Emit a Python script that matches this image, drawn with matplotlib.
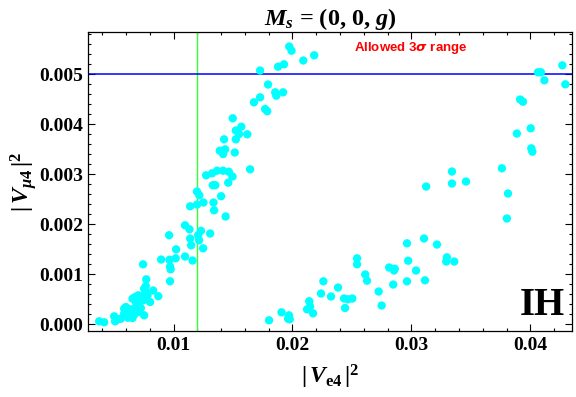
import numpy as np
import matplotlib
matplotlib.use('Agg')
import matplotlib.pyplot as plt
from matplotlib.ticker import MultipleLocator, FormatStrFormatter

# Fonts: bold serif, like the Mathematica export
plt.rcParams['font.family'] = ['Liberation Serif', 'DejaVu Serif']
plt.rcParams['font.weight'] = 'bold'
plt.rcParams['mathtext.fontset'] = 'custom'
plt.rcParams['mathtext.rm'] = 'Liberation Serif:bold'
plt.rcParams['mathtext.it'] = 'Liberation Serif:italic:bold'
plt.rcParams['mathtext.bf'] = 'Liberation Serif:bold'

# Steep branch (|Ve4|^2, |Vmu4|^2)
x_steep = [0.01973, 0.01992, 0.02091, 0.02183, 0.01879, 0.01929, 0.01728, 0.01795,
           0.01855, 0.01864, 0.01921, 0.01728, 0.01676, 0.01770, 0.01788, 0.01498,
           0.01570, 0.01524, 0.01551, 0.01620, 0.01524, 0.01425, 0.01434, 0.01389,
           0.01417, 0.01515, 0.01644, 0.01274, 0.01324, 0.01366, 0.01417, 0.01465,
           0.01496, 0.01460, 0.01330, 0.01351, 0.01400, 0.01197, 0.01217, 0.01140,
           0.01198, 0.01252, 0.01336, 0.01341, 0.01438, 0.01097, 0.01134, 0.01231,
           0.01207, 0.01308, 0.00963, 0.01140, 0.01148, 0.01215, 0.01249, 0.01022,
           0.00896, 0.00967, 0.01018, 0.01097, 0.01160, 0.00971, 0.00976, 0.00744,
           0.00971, 0.00771, 0.00767, 0.00829, 0.00872, 0.00803, 0.00753,
           0.00375, 0.00417, 0.00501, 0.00509, 0.00557, 0.00585, 0.00599, 0.00618,
           0.00655, 0.00669, 0.00655, 0.00677, 0.00703, 0.00725, 0.00745, 0.00683,
           0.00697, 0.00719, 0.00753, 0.00767, 0.00641, 0.00635, 0.00585, 0.00669,
           0.00711, 0.00534, 0.00740, 0.00782]
y_steep = [0.005556, 0.005472, 0.005276, 0.005380, 0.005152, 0.005200, 0.005076, 0.004796,
           0.004640, 0.004572, 0.004640, 0.004540, 0.004440, 0.004306, 0.004262, 0.004120,
           0.003952, 0.003876, 0.003806, 0.003800, 0.003700, 0.003700, 0.003500, 0.003472,
           0.003406, 0.003436, 0.003100, 0.002980, 0.003020, 0.003072, 0.003072, 0.003052,
           0.002956, 0.002832, 0.002782, 0.002782, 0.002562, 0.002656, 0.002580, 0.002360,
           0.002396, 0.002436, 0.002436, 0.002280, 0.002156, 0.001980, 0.001902, 0.001870,
           0.001782, 0.001816, 0.001782, 0.001716, 0.001580, 0.001682, 0.001520, 0.001500,
           0.001296, 0.001290, 0.001320, 0.001356, 0.001276, 0.001156, 0.001100, 0.001200,
           0.000862, 0.000900, 0.000766, 0.000676, 0.000562, 0.000446, 0.000180,
           0.000060, 0.000040, 0.000160, 0.000060, 0.000112, 0.000212, 0.000346, 0.000132,
           0.000126, 0.000192, 0.000512, 0.000546, 0.000580, 0.000326, 0.000480, 0.000446,
           0.000412, 0.000480, 0.000712, 0.000646, 0.000212, 0.000300, 0.000312, 0.000312,
           0.000246, 0.000100, 0.000566, 0.000580]

# Flat branch
x_flat = [0.01803, 0.01908, 0.01971, 0.01977, 0.01963, 0.02141, 0.02148, 0.02123,
          0.02173, 0.02240, 0.02260, 0.02324, 0.02383, 0.02434, 0.02467, 0.02503,
          0.02442, 0.02543, 0.02543, 0.02612, 0.02627, 0.02725, 0.02750, 0.02813,
          0.02860, 0.02854, 0.02847, 0.02963, 0.02973, 0.03039, 0.02963, 0.03106,
          0.03114, 0.03215, 0.03298, 0.03293, 0.03360, 0.03124, 0.03341, 0.03341,
          0.03459, 0.03761, 0.03812, 0.03803, 0.03887, 0.03914, 0.03938, 0.04003,
          0.04008, 0.04017, 0.04064, 0.04089, 0.04118, 0.04269, 0.04294]
y_flat = [0.000080, 0.000240, 0.000180, 0.000100, 0.000112, 0.000462, 0.000356, 0.000300,
          0.000220, 0.000616, 0.000860, 0.000556, 0.000736, 0.000516, 0.000500, 0.000516,
          0.000326, 0.001320, 0.001200, 0.000996, 0.000872, 0.000656, 0.000376, 0.001136,
          0.001112, 0.001076, 0.000796, 0.000860, 0.001272, 0.001076, 0.001620, 0.001716,
          0.000880, 0.001596, 0.001340, 0.001256, 0.001256, 0.002756, 0.002816, 0.003056,
          0.002856, 0.003120, 0.002616, 0.002116, 0.003816, 0.004496, 0.004452, 0.003920,
          0.003520, 0.003452, 0.005040, 0.005040, 0.004880, 0.005180, 0.004800]

bound_ve4 = 0.012
bound_vmu4 = 0.005

fig = plt.figure(figsize=(5.76, 3.97), dpi=100)
ax = fig.add_axes([0.1536, 0.1662, 0.8394, 0.7524])

ax.scatter(x_steep, y_steep, s=36, color='cyan', edgecolors='none', zorder=3)
ax.scatter(x_flat, y_flat, s=36, color='cyan', edgecolors='none', zorder=3)

ax.axvline(bound_ve4, color='#33ff33', lw=1.0, zorder=2)
ax.axhline(bound_vmu4, color='blue', lw=1.1, zorder=2)

ax.set_xlim(0.00285, 0.0435)
ax.set_ylim(-0.000134, 0.00584)

ax.xaxis.set_major_locator(MultipleLocator(0.01))
ax.xaxis.set_minor_locator(MultipleLocator(0.002))
ax.yaxis.set_major_locator(MultipleLocator(0.001))
ax.yaxis.set_minor_locator(MultipleLocator(0.0002))
ax.xaxis.set_major_formatter(FormatStrFormatter('%.2f'))
ax.yaxis.set_major_formatter(FormatStrFormatter('%.3f'))

ax.tick_params(which='both', direction='in', top=True, right=True, labelsize=14, width=0.8)
ax.tick_params(which='major', length=5, pad=4)
ax.tick_params(which='minor', length=2.5)
for lab in ax.get_xticklabels() + ax.get_yticklabels():
    lab.set_fontweight('bold')
for sp in ax.spines.values():
    sp.set_linewidth(0.9)

ax.set_title(r'$M_s$ = (0, 0, $g$)', fontsize=17.5, fontweight='bold', pad=3)
ax.set_xlabel(r'$|\,V_{\mathrm{e4}}\,|^2$', fontsize=17, labelpad=7)
ax.set_ylabel(r'$|\,V_{\mu 4}\,|^2$', fontsize=17, labelpad=0)

ax.text(0.667, 0.947, r'Allowed 3$\sigma$ range', transform=ax.transAxes, color='red',
        fontsize=9.5, fontweight='bold', family='Liberation Sans', ha='center', va='center',
        math_fontfamily='dejavusans')
ax.text(0.985, 0.025, 'IH', transform=ax.transAxes, fontsize=28, fontweight='bold',
        ha='right', va='bottom')

fig.savefig('out.png', dpi=100)
